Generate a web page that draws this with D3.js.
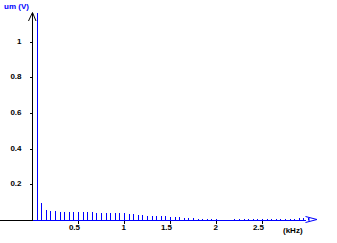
<!DOCTYPE html>
<html>
<head>
<meta charset="utf-8">
<script src="https://cdn.jsdelivr.net/npm/d3@7"></script>
<style>
  body { margin: 0; background: #fff; }
  svg { display: block; font-family: "Liberation Sans", Arial, sans-serif; }
  .lbl { font-size: 8px; font-weight: bold; }
</style>
</head>
<body>
<div class="main"></div>
<script>
// harmonic ranks (spacing 0.05 kHz) and amplitudes in V
const harmonics = d3.range(1, 61);
const amplitudes = [
  1.16, 0.094, 0.057, 0.052, 0.049, 0.047, 0.046, 0.046, 0.045, 0.045,
  0.044, 0.043, 0.043, 0.042, 0.041, 0.040, 0.040, 0.039, 0.038, 0.037,
  0.036, 0.033, 0.030, 0.027, 0.025, 0.024, 0.023, 0.021, 0.020, 0.019,
  0.017, 0.015, 0.012, 0.010, 0.009, 0.008, 0.007, 0.006, 0.005, 0.004,
  0.001, 0.000, 0.001, 0.005, 0.005, 0.006, 0.006, 0.006, 0.006, 0.007,
  0.007, 0.007, 0.007, 0.008, 0.008, 0.008, 0.008, 0.009, 0.009, 0.009
];
const freqStep = 0.05;
const xTicks = [0.5, 1, 1.5, 2, 2.5];
const xTickLabels = ["0.5", "1", "1.5", "2", "2.5"];
const yTicks = [0.2, 0.4, 0.6, 0.8, 1];
const yTickLabels = ["0.2", "0.4", "0.6", "0.8", "1"];

const w = 337, h = 243;
const x0 = 32, y0 = 220;

const xScale = d3.scaleLinear().domain([0, 2.5]).range([x0, x0 + 230]);
const yScale = d3.scaleLinear().domain([0, 1]).range([y0, 41.5]);
const blue = "#0000ff";

const svg = d3.select(".main").append("svg")
  .attr("width", w)
  .attr("height", h);

// spectrum lines
svg.append("g")
  .selectAll("line")
  .data(harmonics)
  .enter()
  .append("line")
  .attr("x1", (d) => Math.round(xScale(d * freqStep)) + 0.5)
  .attr("x2", (d) => Math.round(xScale(d * freqStep)) + 0.5)
  .attr("y1", y0)
  .attr("y2", (d, i) => yScale(amplitudes[i]))
  .attr("stroke", blue)
  .attr("stroke-width", 1)
  .attr("shape-rendering", "crispEdges");

// y axis
const yAxis = d3.axisLeft(yScale)
  .tickValues(yTicks)
  .tickFormat((d, i) => yTickLabels[i])
  .tickSize(3)
  .tickPadding(8);

svg.append("g")
  .attr("transform", "translate(" + (x0 + 0.5) + ",0)")
  .call(yAxis)
  .call(g => g.select(".domain").remove())
  .call(g => g.selectAll("line").attr("stroke", "#000").attr("shape-rendering", "crispEdges"))
  .call(g => g.selectAll("text").attr("class", "lbl").attr("fill", "#000").attr("dy", "0.2em"));

// x axis
const xAxis = d3.axisBottom(xScale)
  .tickValues(xTicks)
  .tickFormat((d, i) => xTickLabels[i])
  .tickSize(3)
  .tickPadding(2);

svg.append("g")
  .attr("transform", "translate(0," + (y0 + 0.5) + ")")
  .call(xAxis)
  .call(g => g.select(".domain").remove())
  .call(g => g.selectAll("line").attr("stroke", "#000").attr("shape-rendering", "crispEdges"))
  .call(g => g.selectAll("text").attr("class", "lbl").attr("fill", "#000")
    .attr("text-anchor", "end").attr("dx", 1.5).attr("dy", "0.55em"));

// axis lines
svg.append("line")
  .attr("x1", 0).attr("x2", x0 + 0.5)
  .attr("y1", y0 + 0.5).attr("y2", y0 + 0.5)
  .attr("stroke", "#000").attr("shape-rendering", "crispEdges");

svg.append("line")
  .attr("x1", x0 + 0.5).attr("x2", x0 + 0.5)
  .attr("y1", y0 + 0.5).attr("y2", 13)
  .attr("stroke", "#000").attr("shape-rendering", "crispEdges");

svg.append("path")
  .attr("d", "M28.5,21 L32.5,12.5 L36,21")
  .attr("fill", "none")
  .attr("stroke", "#000");

svg.append("line")
  .attr("x1", x0 + 0.5).attr("x2", 306)
  .attr("y1", y0 + 0.5).attr("y2", y0 + 0.5)
  .attr("stroke", blue).attr("shape-rendering", "crispEdges");

svg.append("path")
  .attr("d", "M305.5,216.5 L317,219.5 L305.5,222.5 M309,217.5 L309,221.5")
  .attr("fill", "none")
  .attr("stroke", blue);

// unit labels
svg.append("text")
  .attr("class", "lbl")
  .attr("x", 4).attr("y", 8.5)
  .attr("fill", blue)
  .text("um (V)");

svg.append("text")
  .attr("class", "lbl")
  .attr("x", 283).attr("y", 233)
  .attr("fill", "#000")
  .text("(kHz)");
</script>
</body>
</html>
